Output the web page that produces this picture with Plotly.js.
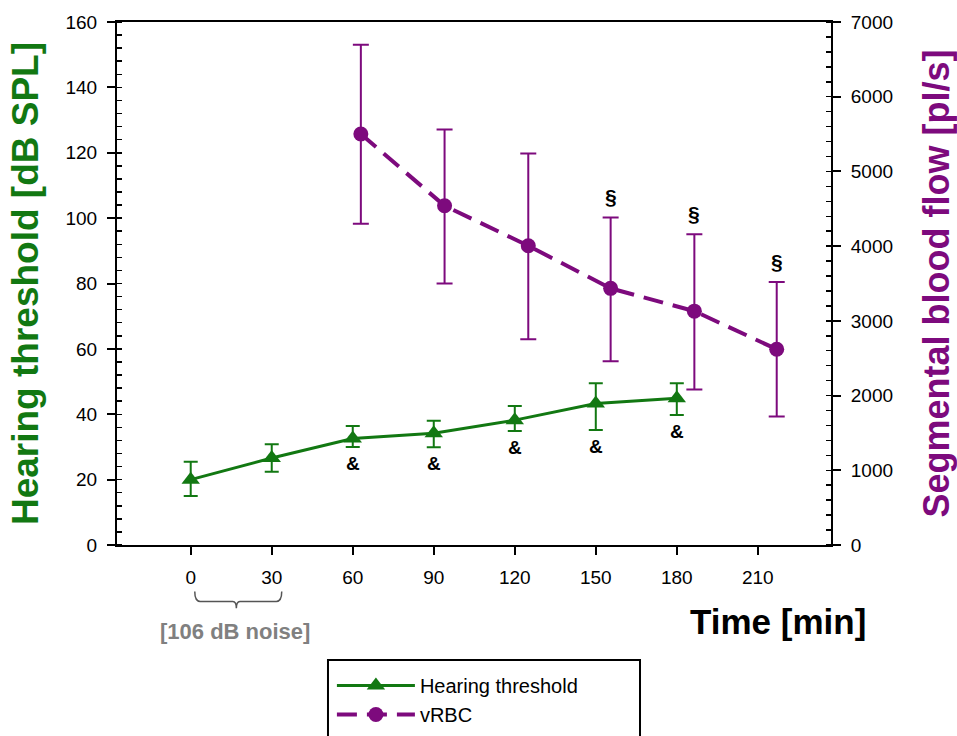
<!DOCTYPE html>
<html>
<head>
<meta charset="utf-8">
<script src="https://cdn.plot.ly/plotly-3.0.1.min.js"></script>
<style>html,body{margin:0;padding:0;background:#fff;}#chart{width:957px;height:736px;}</style>
</head>
<body>
<div id="chart"></div>
<script>
// ---- data ----
var timeHearing = [0, 30, 60, 90, 120, 150, 180];
var hearing = [20, 26.6, 32.6, 34.2, 38.2, 43.3, 44.9];
var hearingErrUp = [5.5, 4.2, 3.8, 3.8, 4.3, 6.2, 4.6];
var hearingErrDown = [5.0, 4.2, 2.6, 4.3, 3.3, 8.1, 5.1];
var hearingMarks = ["", "", "&", "&", "&", "&", "&"];

var timeFlow = [63, 94, 125, 155.5, 186.5, 217];
var flow = [5500, 4540, 4005, 3435, 3130, 2620];
var flowErrUp = [1195, 1020, 1235, 950, 1030, 900];
var flowErrDown = [1200, 1040, 1250, 975, 1050, 900];
var flowMarks = ["", "", "", "\u00a7", "\u00a7", "\u00a7"];

var xTicks = [0, 30, 60, 90, 120, 150, 180, 210];
var xRange = [-27.3, 237.1];

var GREEN = "#127812";
var PURPLE = "#7d0a7d";
var FONT = "Liberation Sans, Arial, sans-serif";

var traces = [
  {
    x: timeHearing, y: hearing, type: "scatter", mode: "lines+markers",
    name: "Hearing threshold", yaxis: "y",
    line: {color: GREEN, width: 3},
    marker: {symbol: "triangle-up", size: 16, color: GREEN},
    error_y: {type: "data", symmetric: false, array: hearingErrUp, arrayminus: hearingErrDown,
              color: GREEN, thickness: 2, width: 7}
  },
  {
    x: timeFlow, y: flow, type: "scatter", mode: "lines+markers",
    name: "vRBC", yaxis: "y2",
    line: {color: PURPLE, width: 4, dash: "20px,10px"},
    marker: {symbol: "circle", size: 15, color: PURPLE},
    error_y: {type: "data", symmetric: false, array: flowErrUp, arrayminus: flowErrDown,
              color: PURPLE, thickness: 2, width: 8}
  }
];

var annotations = [];
hearingMarks.forEach(function (m, i) {
  if (!m) return;
  annotations.push({
    x: timeHearing[i], y: hearing[i] - hearingErrDown[i], xref: "x", yref: "y",
    text: "<b>" + m + "</b>", showarrow: false, yanchor: "top", yshift: -4,
    font: {family: FONT, size: 19, color: "#000"}
  });
});
flowMarks.forEach(function (m, i) {
  if (!m) return;
  annotations.push({
    x: timeFlow[i], y: flow[i] + flowErrUp[i], xref: "x", yref: "y2",
    text: "<b>" + m + "</b>", showarrow: false, yanchor: "bottom", yshift: 7,
    font: {family: FONT, size: 21, color: "#000"}
  });
});
annotations.push({
  xref: "paper", yref: "paper", x: 0.926, y: -0.147, xanchor: "center", yanchor: "middle",
  text: "<b>Time [min]</b>", showarrow: false,
  font: {family: FONT, size: 35, color: "#000"}
});
function px(v) { return (v - xRange[0]) / (xRange[1] - xRange[0]); }
annotations.push({
  xref: "paper", yref: "paper", x: px(16.3), y: -0.166, xanchor: "center", yanchor: "middle",
  text: "<b>[106 dB noise]</b>", showarrow: false,
  font: {family: FONT, size: 22, color: "#808080"}
});

// curly brace below the 0-30 min noise period
var bx = [1.5, 3.5, 15.6, 16.9, 18.2, 31.7, 33.7].map(px);
var by1 = -0.089, by2 = -0.108, by3 = -0.121;
var bracePath = "M" + bx[0] + "," + by1 +
  " Q" + bx[0] + "," + by2 + " " + bx[1] + "," + by2 +
  " L" + bx[2] + "," + by2 +
  " Q" + bx[3] + "," + by2 + " " + bx[3] + "," + by3 +
  " Q" + bx[3] + "," + by2 + " " + bx[4] + "," + by2 +
  " L" + bx[5] + "," + by2 +
  " Q" + bx[6] + "," + by2 + " " + bx[6] + "," + by1;

var layout = {
  width: 957, height: 736,
  margin: {l: 117, r: 126, t: 22, b: 191, autoexpand: false},
  paper_bgcolor: "#fff", plot_bgcolor: "#fff",
  font: {family: FONT, size: 19, color: "#000"},
  showlegend: true,
  legend: {
    x: 0.301, y: -0.2314, xanchor: "left", yanchor: "top",
    bgcolor: "rgba(0,0,0,0)", borderwidth: 0,
    font: {family: FONT, size: 20, color: "#000"},
    itemwidth: 78, tracegroupgap: 0
  },
  xaxis: {
    range: xRange, tickvals: xTicks, ticktext: xTicks.map(String),
    showgrid: false, zeroline: false, showline: true, linecolor: "#000", linewidth: 2,
    mirror: true, ticks: "outside", ticklen: 8, tickwidth: 2, tickcolor: "#000",
    ticklabelstandoff: 6,
    tickfont: {family: FONT, size: 19, color: "#000"}
  },
  yaxis: {
    range: [0, 160], dtick: 20, tick0: 0,
    showgrid: false, zeroline: false, showline: true, linecolor: "#000", linewidth: 2,
    ticks: "outside", ticklen: 8, tickwidth: 2, tickcolor: "#000",
    ticklabelstandoff: 6,
    minor: {dtick: 4, ticks: "inside", ticklen: 5, tickwidth: 1.5, tickcolor: "#000", showgrid: false},
    tickfont: {family: FONT, size: 19, color: "#000"},
    title: {text: "<b>Hearing threshold [dB SPL]</b>", standoff: 16,
            font: {family: FONT, size: 37, color: GREEN}}
  },
  yaxis2: {
    range: [0, 7000], dtick: 1000, tick0: 0, overlaying: "y", side: "right",
    showgrid: false, zeroline: false, showline: true, linecolor: "#000", linewidth: 2,
    ticks: "outside", ticklen: 8, tickwidth: 2, tickcolor: "#000",
    ticklabelstandoff: 6,
    minor: {dtick: 200, ticks: "inside", ticklen: 5, tickwidth: 1.5, tickcolor: "#000", showgrid: false},
    tickfont: {family: FONT, size: 19, color: "#000"},
    title: {text: "<b>Segmental blood flow [pl/s]</b>", standoff: 33,
            font: {family: FONT, size: 36, color: PURPLE}}
  },
  annotations: annotations,
  shapes: [
    {type: "path", xref: "paper", yref: "paper", path: bracePath,
     line: {color: "#555", width: 1.5}},
    // legend frame (runs past the bottom edge, as in the reference)
    {type: "rect", xref: "paper", yref: "paper", x0: 0.2955, x1: 0.7325, y0: -0.2199, y1: -0.39,
     line: {color: "#000", width: 2}, fillcolor: "rgba(0,0,0,0)"}
  ]
};

Plotly.newPlot("chart", traces, layout, {displayModeBar: false, staticPlot: true});
</script>
</body>
</html>
